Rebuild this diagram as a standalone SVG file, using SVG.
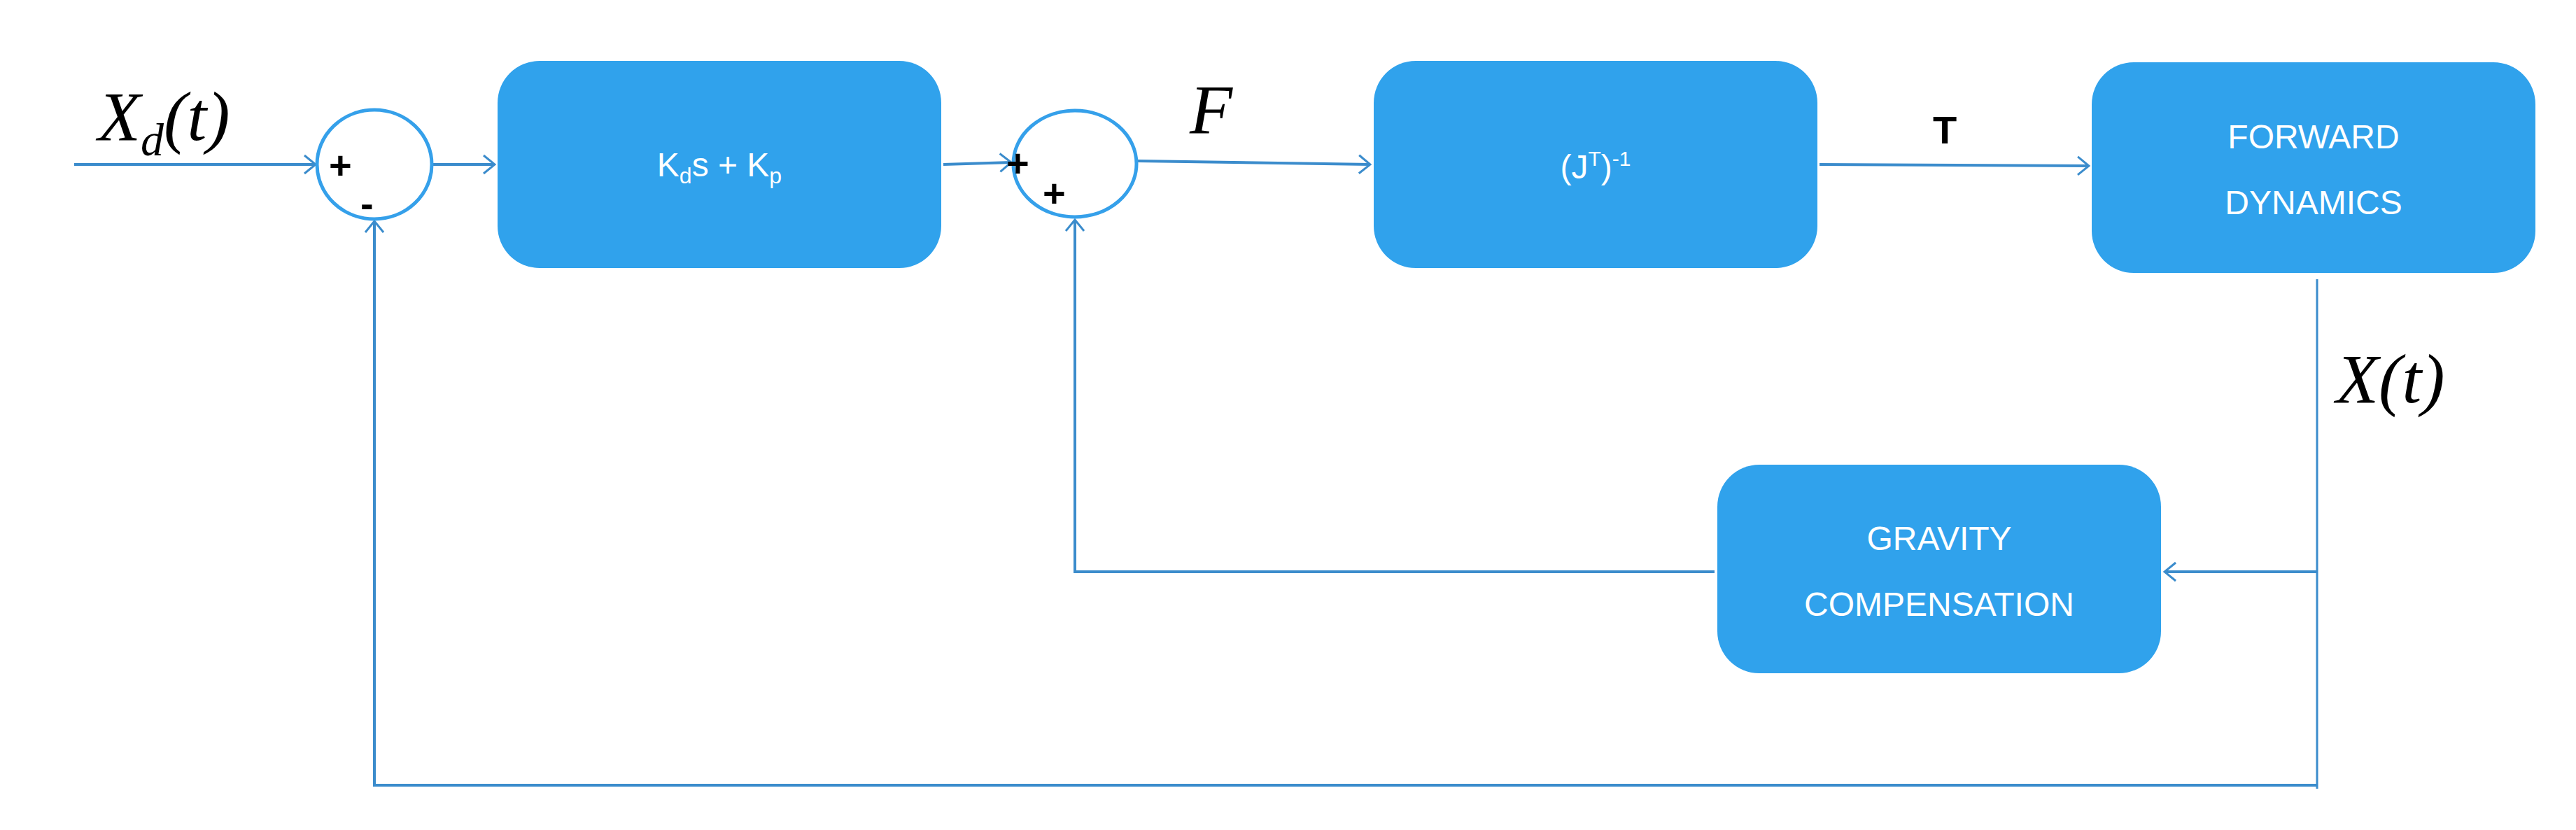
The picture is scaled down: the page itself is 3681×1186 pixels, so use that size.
<svg xmlns="http://www.w3.org/2000/svg" width="3681" height="1186" viewBox="0 0 3681 1186">
<style>
.box{fill:#30a2ec}
.bt{fill:#fff;font-family:"Liberation Sans",Arial,sans-serif;font-size:48px;text-anchor:middle}
.ln{fill:none;stroke:#3b8ccc;stroke-width:4}
.sum{fill:#fff;stroke:#35a0ea;stroke-width:5}
.math{font-family:"Liberation Serif","Times New Roman",serif;font-style:italic;font-size:100px;fill:#000}
.sg{font-family:"Liberation Sans",Arial,sans-serif;font-weight:bold;font-size:56px;fill:#000}
</style>
<defs>
<marker id="ar" viewBox="0 0 20 30" refX="18" refY="15" markerWidth="20" markerHeight="30" markerUnits="userSpaceOnUse" orient="auto">
<path d="M2 2 L18 15 L2 28" fill="none" stroke="#3b8ccc" stroke-width="3"/>
</marker>
</defs>
<rect width="3681" height="1186" fill="#fff"/>
<g id="connectors">
<line class="ln" x1="106" y1="235" x2="451" y2="235" marker-end="url(#ar)"/>
<line class="ln" x1="619" y1="235" x2="707" y2="235" marker-end="url(#ar)"/>
<line class="ln" x1="1348" y1="235" x2="1445" y2="232" marker-end="url(#ar)"/>
<line class="ln" x1="1626" y1="230" x2="1958" y2="235" marker-end="url(#ar)"/>
<line class="ln" x1="2600" y1="235" x2="2985" y2="237" marker-end="url(#ar)"/>
<polyline class="ln" points="3311,399 3311,1127" style="stroke-width:3"/>
<line class="ln" x1="3311" y1="817" x2="3093" y2="817" marker-end="url(#ar)"/>
<polyline class="ln" points="2450,817 1536,817 1536,314" marker-end="url(#ar)"/>
<polyline class="ln" points="3311,1122 535,1122 535,316" marker-end="url(#ar)"/>
</g>
<g id="sum1">
<ellipse class="sum" cx="535" cy="235" rx="82" ry="78"/>
<text class="sg" x="470" y="255">+</text>
<text class="sg" x="515" y="310">-</text>
</g>
<g id="sum2">
<ellipse class="sum" cx="1536" cy="234" rx="88" ry="76"/>
<text class="sg" x="1438" y="252">+</text>
<text class="sg" x="1490" y="295">+</text>
</g>
<g id="pd">
<rect class="box" x="711" y="87" width="634" height="296" rx="60"/>
<text class="bt" x="1028" y="252">K<tspan font-size="32" dy="10">d</tspan><tspan dy="-10">s + K</tspan><tspan font-size="32" dy="10">p</tspan></text>
</g>
<g id="jinv">
<rect class="box" x="1963" y="87" width="634" height="296" rx="60"/>
<text class="bt" x="2280" y="255">(J<tspan font-size="30" dy="-18">T</tspan><tspan dy="18">)</tspan><tspan font-size="30" dy="-18">-1</tspan></text>
</g>
<g id="fd">
<rect class="box" x="2989" y="89" width="634" height="301" rx="60"/>
<text class="bt" x="3306" y="212">FORWARD</text>
<text class="bt" x="3306" y="306">DYNAMICS</text>
</g>
<g id="grav">
<rect class="box" x="2454" y="664" width="634" height="298" rx="60"/>
<text class="bt" x="2771" y="786">GRAVITY</text>
<text class="bt" x="2771" y="880">COMPENSATION</text>
</g>
<g id="labels">
<text class="math" x="140" y="200">X<tspan font-size="66" dy="22">d</tspan><tspan dy="-22">(t)</tspan></text>
<text class="math" x="1700" y="190">F</text>
<text class="sg" x="2762" y="205" font-size="58">T</text>
<text class="math" x="3338" y="575">X(t)</text>
</g>
</svg>
